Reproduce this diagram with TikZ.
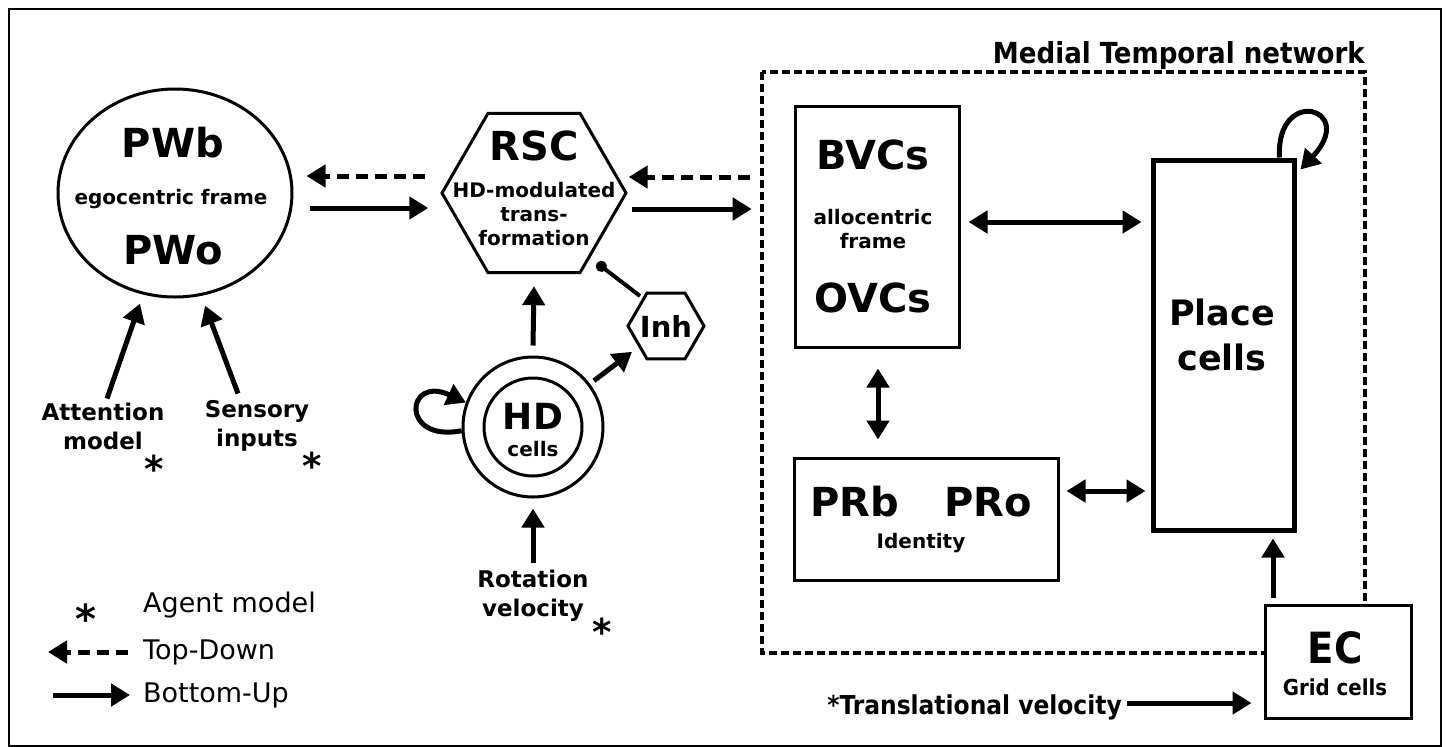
\documentclass[tikz,border=0pt]{standalone}
\usepackage{fontspec}
\setmainfont{DejaVu Sans}
\newfontfamily\condfont{DejaVu Sans Condensed}
\usetikzlibrary{arrows.meta,shapes.geometric,calc}

\begin{document}
\begin{tikzpicture}[x=1pt,y=-1pt,
  shp/.style={draw,line width=3pt,inner sep=0pt},
  big/.style={font=\fontsize{40}{44}\selectfont\bfseries},
  mid/.style={font=\fontsize{23}{29}\selectfont\bfseries,align=center},
  small/.style={font=\fontsize{20}{24}\selectfont\bfseries,align=center},
  star/.style={font=\fontsize{37}{40}\selectfont\bfseries,anchor=base,inner sep=0pt},
  legend/.style={font=\fontsize{27}{32}\selectfont,anchor=west,inner sep=0pt},
  bu/.style={-{Triangle[length=19pt,width=22pt]},line width=5pt},
  td/.style={bu,dash pattern=on 12pt off 7pt},
  bi/.style={{Triangle[length=19pt,width=22pt]}-{Triangle[length=19pt,width=22pt]},line width=5pt},
  inhib/.style={-{Circle[length=11pt]},line width=4pt}]
\useasboundingbox (0,0) rectangle (1446,747);
\draw[line width=1.5pt] (9,9) rectangle (1441,746);

% medial temporal network
\draw[line width=3.5pt,dash pattern=on 8pt off 4pt] (762,72) rectangle (1365,653);
\node[font=\condfont\bfseries\fontsize{29}{34}\selectfont,anchor=base east,inner sep=0pt] (mtlbl) at (1365,63) {Medial Temporal network};

% parietal window
\node[shp,ellipse,minimum width=234pt,minimum height=208pt] (pw) at (175,193) {};
\node[big] (pwb) at (173,143) {PWb};
\node[small] (pwf) at (171,199) {egocentric frame};
\node[big] (pwo) at (173,250) {PWo};

% retrosplenial
\node[shp,regular polygon,regular polygon sides=6,minimum size=184pt] (rsc) at (534,193) {};
\node[big] (rscl) at (534,146) {RSC};
\node[small] (rscf) at (534,214) {HD-modulated\\trans-\\formation};

\node[shp,regular polygon,regular polygon sides=6,minimum size=76pt] (inh) at (666,326) {};
\node[font=\fontsize{29}{32}\selectfont\bfseries] (inhl) at (666,326) {Inh};

% head direction
\node[shp,circle,minimum size=140pt] (hd) at (533,427) {};
\node[shp,circle,minimum size=98pt] (hdin) at (533,427) {};
\node[font=\fontsize{36}{40}\selectfont\bfseries] (hdl) at (533,416) {HD};
\node[small] (hdc) at (533,449) {cells};

% MTL boxes
\node[shp,minimum width=164pt,minimum height=241pt] (bvc) at (877,226.5) {};
\node[big] (bvcl) at (873,155) {BVCs};
\node[small] (bvcf) at (873,229) {allocentric\\frame};
\node[big] (ovcl) at (873,298) {OVCs};

\node[shp,minimum width=264pt,minimum height=122pt] (prb) at (926,519) {};
\node[big] (prbl) at (855,502) {PRb};
\node[big] (prol) at (988,502) {PRo};
\node[small] (prid) at (921,543) {Identity};

\node[shp,line width=5pt,minimum width=141pt,minimum height=370pt] (place) at (1223.5,345) {};
\node[font=\fontsize{35}{45}\selectfont\bfseries,align=center] (placel) at (1222,335) {Place\\cells};

\node[shp,fill=white,minimum width=146pt,minimum height=113pt] (ec) at (1338,661.5) {};
\node[font=\condfont\bfseries\fontsize{43}{46}\selectfont] (ecl) at (1335,648) {EC};
\node[font=\condfont\bfseries\fontsize{22}{26}\selectfont] (ecg) at (1335,687) {Grid cells};

% inputs
\node[mid] (attn) at (103,426) {Attention\\model};
\node[mid] (sens) at (257,426) {Sensory\\inputs};
\node[mid] (rot) at (533,596) {Rotation\\velocity};
\node[star] (s1) at (154,482) {*};
\node[star] (s2) at (312,479) {*};
\node[star] (s3) at (602,645) {*};
\node[font=\condfont\bfseries\fontsize{26}{30}\selectfont,anchor=base east,inner sep=0pt] (trans) at (1122,714) {*Translational velocity};

% connections
\draw[td] ($(rsc.west)+(-15,-17)$) -- ($(pw.east)+(13,-17)$);
\draw[bu] ($(pw.east)+(16,15)$) -- ($(rsc.west)+(-12,15)$);
\draw[td] ($(rsc.east)+(122,-16)$) -- ($(rsc.east)+(1,-16)$);
\draw[bu] ($(rsc.east)+(4,16)$) -- ($(rsc.east)+(124,16)$);
\draw[bu] ($(hd.north)+(0,-10)$) -- ($(rsc.south)+(0,12)$);
\draw[bu,shorten <=5pt,shorten >=8pt] (hd) -- (inh);
\draw[inhib] ($(inh)+(-26,-30)$) -- ($(rsc)+(63,70)$);
\draw[bu] (hd.183) .. controls +(-62,12) and +(-60,-28) .. (hd.160);
\draw[bu] ($(place.north)+(56,0)$) .. controls +(-4,-72) and +(58,-62) .. ($(place.north east)+(4,12)$);
\draw[bi] ($(bvc.east)+(8,-4.5)$) -- ($(bvc.east -| place.west)+(-9,-4.5)$);
\draw[bi] ($(prb.east)+(7,-28)$) -- ($(prb.east -| place.west)+(-5,-28)$);
\draw[bi] ($(bvc.south)+(1,20)$) -- ($(bvc.south |- prb.north)+(1,-17)$);
\draw[bu] ($(place.south)+(49.5,65)$) -- ($(place.south)+(49.5,6)$);
\draw[bu] ($(hd.south)+(0,64)$) -- ($(hd.south)+(0,10)$);
\draw[bu] ($(pw.south)+(-68,100)$) -- ($(pw.south)+(-35,5)$);
\draw[bu] ($(pw.south)+(63,95)$) -- ($(pw.south)+(30,7)$);
\draw[bu] ($(trans.base east)+(5,-11)$) -- ($(ec.west |- trans.base east)+(-12,-11)$);

% legend
\node[font=\fontsize{40}{40}\selectfont\bfseries,anchor=base,inner sep=0pt] (lgstar) at (86,633) {*};
\node[legend] (lgagent) at (143,605) {Agent model};
\node[legend] (lgtd) at (143,652) {Top-Down};
\node[legend] (lgbu) at (143,695) {Bottom-Up};
\draw[td] ($(lgtd.west)+(-15,0)$) -- ($(lgtd.west)+(-95,0)$);
\draw[bu] ($(lgbu.west)+(-90,0)$) -- ($(lgbu.west)+(-13,0)$);
\end{tikzpicture}
\end{document}
